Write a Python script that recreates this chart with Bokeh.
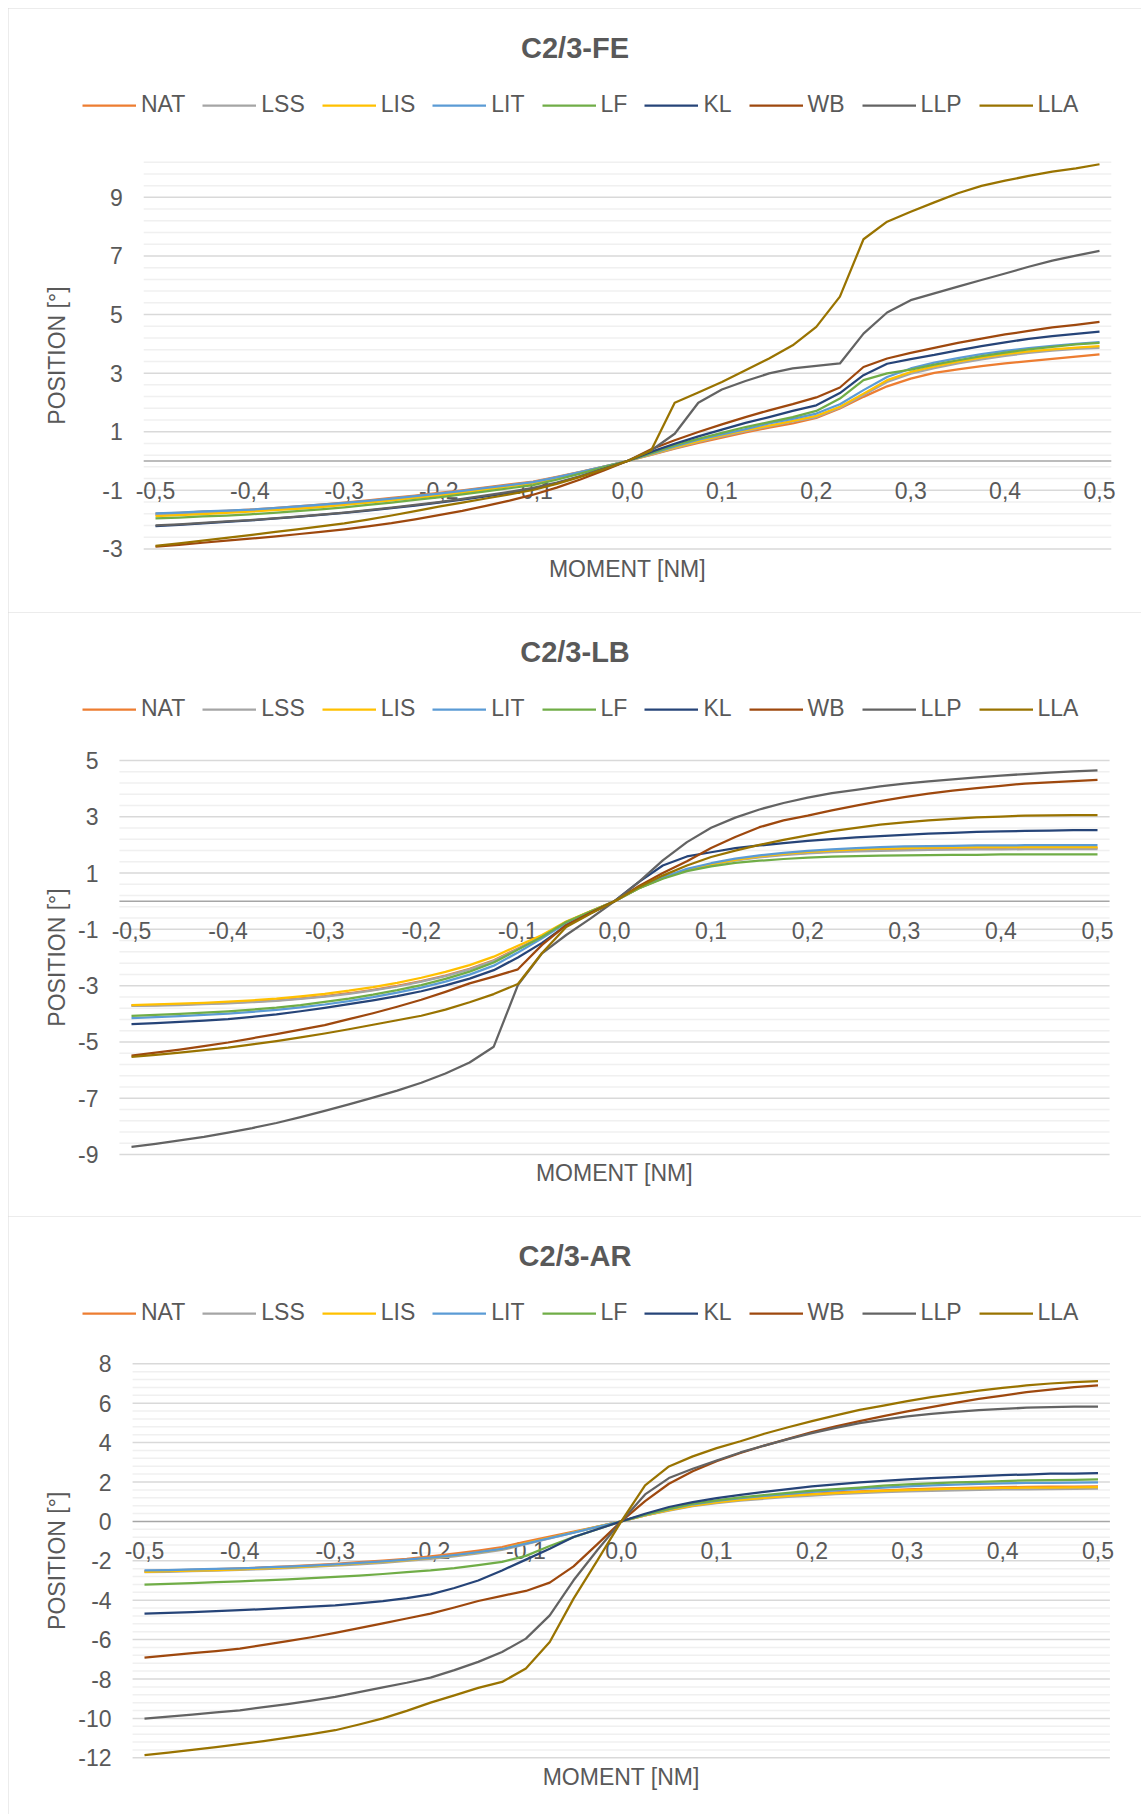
import math
from bokeh.plotting import figure
from bokeh.models import Legend, LegendItem, Range1d, Label
from bokeh.core.properties import value
from bokeh.layouts import column
from bokeh.embed import file_html
from bokeh.resources import INLINE

# ---------------- data ----------------
moment = [-0.5, -0.475, -0.45, -0.425, -0.4, -0.375, -0.35, -0.325, -0.3, -0.275,
          -0.25, -0.225, -0.2, -0.175, -0.15, -0.125, -0.1, -0.075, -0.05, -0.025,
          0.0, 0.025, 0.05, 0.075, 0.1, 0.125, 0.15, 0.175, 0.2, 0.225,
          0.25, 0.275, 0.3, 0.325, 0.35, 0.375, 0.4, 0.425, 0.45, 0.475, 0.5]

series_names = ["NAT", "LSS", "LIS", "LIT", "LF", "KL", "WB", "LLP", "LLA"]
series_colors = ["#ED7D31", "#A5A5A5", "#FFC000", "#5B9BD5", "#70AD47",
                 "#264478", "#9E480E", "#636363", "#997300"]

x_ticks = [-0.5, -0.4, -0.3, -0.2, -0.1, 0.0, 0.1, 0.2, 0.3, 0.4, 0.5]
x_tick_labels = ["-0,5", "-0,4", "-0,3", "-0,2", "-0,1", "0,0", "0,1", "0,2", "0,3", "0,4", "0,5"]

# C2/3-FE
NAT_FE = [-1.80,-1.77,-1.73,-1.70,-1.66,-1.61,-1.55,-1.49,-1.42,-1.34,-1.26,-1.18,-1.09,-1.00,-0.90,-0.80,-0.70,-0.54,-0.37,-0.19,0.00,
          0.21,0.42,0.62,0.80,0.98,1.14,1.28,1.47,1.79,2.19,2.55,2.81,3.01,3.13,3.24,3.33,3.41,3.49,3.56,3.64]
LSS_FE = [-1.84,-1.81,-1.77,-1.73,-1.69,-1.64,-1.58,-1.52,-1.45,-1.37,-1.29,-1.21,-1.12,-1.03,-0.93,-0.83,-0.72,-0.56,-0.38,-0.19,0.00,
          0.22,0.44,0.65,0.84,1.02,1.18,1.34,1.50,1.82,2.25,2.70,2.98,3.17,3.33,3.47,3.59,3.69,3.77,3.83,3.86]
LIS_FE = [-1.88,-1.85,-1.81,-1.77,-1.73,-1.68,-1.63,-1.57,-1.50,-1.42,-1.34,-1.26,-1.18,-1.08,-0.98,-0.87,-0.76,-0.59,-0.40,-0.20,0.00,
          0.23,0.46,0.68,0.87,1.05,1.21,1.37,1.54,1.85,2.30,2.76,3.04,3.23,3.39,3.53,3.65,3.74,3.81,3.87,3.92]
LIT_FE = [-1.79,-1.76,-1.72,-1.69,-1.66,-1.61,-1.55,-1.49,-1.43,-1.36,-1.28,-1.20,-1.11,-1.02,-0.92,-0.82,-0.72,-0.56,-0.38,-0.19,0.00,
          0.25,0.50,0.73,0.91,1.09,1.28,1.44,1.62,1.94,2.42,2.87,3.16,3.36,3.51,3.65,3.76,3.85,3.93,4.00,4.06]
LF_FE = [-1.96,-1.93,-1.89,-1.86,-1.82,-1.77,-1.71,-1.65,-1.58,-1.50,-1.42,-1.33,-1.24,-1.14,-1.04,-0.93,-0.82,-0.64,-0.43,-0.21,0.00,
         0.27,0.54,0.76,0.96,1.16,1.33,1.50,1.71,2.13,2.76,2.99,3.12,3.29,3.44,3.58,3.70,3.81,3.90,3.98,4.03]
KL_FE = [-2.22,-2.18,-2.13,-2.08,-2.03,-1.97,-1.91,-1.84,-1.77,-1.69,-1.61,-1.52,-1.42,-1.32,-1.21,-1.09,-0.96,-0.76,-0.52,-0.27,0.00,
         0.31,0.59,0.84,1.07,1.30,1.50,1.71,1.90,2.32,2.93,3.32,3.48,3.62,3.78,3.92,4.05,4.17,4.26,4.34,4.42]
WB_FE = [-2.92,-2.86,-2.79,-2.72,-2.65,-2.58,-2.50,-2.42,-2.33,-2.23,-2.12,-1.99,-1.85,-1.70,-1.53,-1.35,-1.15,-0.91,-0.63,-0.32,0.00,
         0.40,0.71,0.99,1.25,1.50,1.73,1.94,2.17,2.51,3.21,3.50,3.69,3.86,4.03,4.18,4.32,4.44,4.56,4.65,4.75]
LLP_FE = [-2.20,-2.16,-2.11,-2.06,-2.02,-1.96,-1.90,-1.83,-1.76,-1.68,-1.59,-1.50,-1.40,-1.29,-1.17,-1.05,-0.92,-0.74,-0.52,-0.27,0.00,
          0.36,0.93,1.99,2.44,2.73,2.99,3.16,3.25,3.33,4.35,5.07,5.49,5.72,5.95,6.18,6.40,6.63,6.84,7.01,7.17]
LLA_FE = [-2.90,-2.81,-2.72,-2.62,-2.53,-2.43,-2.33,-2.23,-2.13,-2.00,-1.86,-1.71,-1.56,-1.42,-1.28,-1.14,-0.99,-0.78,-0.54,-0.28,0.00,
          0.36,1.99,2.34,2.70,3.10,3.50,3.95,4.58,5.61,7.57,8.17,8.51,8.83,9.14,9.39,9.57,9.73,9.88,9.99,10.13]

# C2/3-LB
NAT_LB = [-3.70,-3.69,-3.67,-3.64,-3.61,-3.57,-3.52,-3.45,-3.37,-3.27,-3.15,-3.01,-2.84,-2.64,-2.40,-2.10,-1.68,-1.25,-0.74,-0.37,0.00,
          0.46,0.83,1.12,1.31,1.46,1.58,1.66,1.72,1.77,1.80,1.83,1.85,1.86,1.87,1.88,1.88,1.89,1.89,1.89,1.89]
LSS_LB = [-3.72,-3.71,-3.69,-3.66,-3.63,-3.59,-3.54,-3.47,-3.39,-3.29,-3.17,-3.03,-2.86,-2.66,-2.42,-2.12,-1.70,-1.26,-0.75,-0.37,0.00,
          0.46,0.82,1.11,1.30,1.45,1.56,1.64,1.70,1.74,1.77,1.79,1.81,1.82,1.83,1.84,1.84,1.85,1.85,1.85,1.85]
LIS_LB = [-3.69,-3.67,-3.64,-3.61,-3.57,-3.52,-3.46,-3.38,-3.29,-3.18,-3.05,-2.90,-2.72,-2.51,-2.27,-1.97,-1.58,-1.20,-0.72,-0.36,0.00,
          0.46,0.83,1.12,1.32,1.47,1.59,1.68,1.75,1.80,1.84,1.87,1.89,1.90,1.91,1.92,1.92,1.92,1.92,1.92,1.92]
LIT_LB = [-4.15,-4.12,-4.08,-4.04,-3.99,-3.93,-3.86,-3.77,-3.67,-3.55,-3.41,-3.25,-3.07,-2.86,-2.61,-2.29,-1.82,-1.32,-0.78,-0.39,0.00,
          0.47,0.85,1.15,1.35,1.51,1.63,1.72,1.79,1.84,1.89,1.92,1.95,1.96,1.97,1.98,1.98,1.99,1.99,1.99,1.99]
LF_LB = [-4.07,-4.04,-4.00,-3.96,-3.91,-3.85,-3.78,-3.69,-3.58,-3.46,-3.32,-3.16,-2.98,-2.76,-2.50,-2.18,-1.72,-1.26,-0.74,-0.37,0.00,
         0.45,0.80,1.07,1.24,1.36,1.44,1.50,1.55,1.58,1.60,1.62,1.63,1.64,1.65,1.65,1.66,1.66,1.66,1.66,1.66]
KL_LB = [-4.37,-4.33,-4.29,-4.24,-4.19,-4.11,-4.02,-3.91,-3.79,-3.66,-3.52,-3.37,-3.20,-2.99,-2.75,-2.45,-2.00,-1.48,-0.86,-0.43,0.00,
         0.68,1.27,1.59,1.74,1.89,1.98,2.06,2.14,2.21,2.27,2.31,2.36,2.40,2.43,2.46,2.48,2.50,2.51,2.53,2.53]
WB_LB = [-5.49,-5.38,-5.27,-5.15,-5.02,-4.87,-4.72,-4.56,-4.40,-4.19,-3.98,-3.75,-3.50,-3.22,-2.92,-2.68,-2.42,-1.55,-0.85,-0.42,0.00,
         0.53,1.00,1.42,1.89,2.28,2.63,2.87,3.04,3.23,3.40,3.56,3.70,3.82,3.93,4.02,4.10,4.18,4.22,4.27,4.31]
LLP_LB = [-8.73,-8.62,-8.50,-8.37,-8.22,-8.06,-7.88,-7.67,-7.45,-7.22,-6.98,-6.73,-6.45,-6.12,-5.73,-5.17,-2.98,-1.85,-1.20,-0.62,0.00,
          0.68,1.45,2.10,2.61,2.97,3.26,3.49,3.68,3.84,3.96,4.08,4.18,4.26,4.33,4.40,4.46,4.52,4.57,4.61,4.65]
LLA_LB = [-5.53,-5.46,-5.38,-5.29,-5.20,-5.09,-4.97,-4.84,-4.70,-4.55,-4.39,-4.23,-4.07,-3.85,-3.59,-3.30,-2.94,-1.84,-0.92,-0.45,0.00,
          0.50,0.91,1.27,1.57,1.80,2.00,2.18,2.34,2.49,2.61,2.72,2.80,2.87,2.93,2.98,3.01,3.04,3.05,3.06,3.06]

# C2/3-AR
NAT_AR = [-2.52,-2.49,-2.46,-2.42,-2.38,-2.34,-2.28,-2.22,-2.15,-2.07,-1.99,-1.90,-1.78,-1.64,-1.48,-1.30,-1.02,-0.77,-0.52,-0.26,0.00,
          0.31,0.58,0.81,0.98,1.11,1.22,1.32,1.40,1.47,1.53,1.58,1.62,1.66,1.69,1.72,1.74,1.75,1.76,1.77,1.78]
LSS_AR = [-2.58,-2.56,-2.53,-2.50,-2.46,-2.42,-2.37,-2.31,-2.25,-2.18,-2.10,-2.01,-1.90,-1.77,-1.62,-1.45,-1.15,-0.86,-0.57,-0.28,0.00,
          0.30,0.55,0.77,0.93,1.05,1.15,1.24,1.31,1.38,1.43,1.48,1.52,1.55,1.58,1.60,1.62,1.63,1.64,1.65,1.66]
LIS_AR = [-2.56,-2.53,-2.50,-2.47,-2.43,-2.39,-2.34,-2.28,-2.21,-2.13,-2.05,-1.96,-1.85,-1.72,-1.57,-1.40,-1.10,-0.83,-0.55,-0.27,0.00,
          0.31,0.57,0.80,0.96,1.09,1.20,1.29,1.37,1.44,1.50,1.55,1.59,1.63,1.66,1.68,1.70,1.71,1.72,1.73,1.74]
LIT_AR = [-2.49,-2.47,-2.44,-2.41,-2.38,-2.34,-2.29,-2.24,-2.18,-2.11,-2.03,-1.94,-1.84,-1.71,-1.56,-1.40,-1.13,-0.85,-0.57,-0.28,0.00,
          0.33,0.62,0.87,1.04,1.18,1.30,1.40,1.50,1.58,1.65,1.72,1.78,1.83,1.87,1.90,1.93,1.95,1.96,1.97,1.98]
LF_AR = [-3.21,-3.17,-3.13,-3.08,-3.04,-2.99,-2.94,-2.88,-2.82,-2.75,-2.67,-2.58,-2.49,-2.37,-2.22,-2.05,-1.75,-1.25,-0.80,-0.40,0.00,
         0.34,0.64,0.90,1.07,1.22,1.34,1.45,1.56,1.64,1.72,1.81,1.88,1.93,1.98,2.01,2.05,2.08,2.10,2.11,2.13]
KL_AR = [-4.68,-4.64,-4.60,-4.55,-4.51,-4.45,-4.39,-4.33,-4.26,-4.16,-4.05,-3.90,-3.70,-3.38,-3.00,-2.49,-1.94,-1.39,-0.79,-0.40,0.00,
         0.39,0.73,0.98,1.18,1.35,1.50,1.64,1.78,1.88,1.98,2.06,2.13,2.20,2.25,2.30,2.35,2.38,2.42,2.43,2.45]
WB_AR = [-6.91,-6.80,-6.69,-6.58,-6.46,-6.27,-6.08,-5.88,-5.66,-5.42,-5.18,-4.93,-4.68,-4.37,-4.04,-3.78,-3.53,-3.11,-2.28,-1.15,0.00,
         1.03,1.91,2.55,3.06,3.47,3.85,4.19,4.53,4.82,5.09,5.34,5.58,5.80,6.02,6.22,6.39,6.56,6.69,6.81,6.91]
LLP_AR = [-10.01,-9.91,-9.81,-9.70,-9.59,-9.43,-9.27,-9.10,-8.91,-8.67,-8.42,-8.19,-7.93,-7.55,-7.13,-6.63,-5.95,-4.77,-2.99,-1.45,0.00,
          1.37,2.20,2.67,3.09,3.50,3.85,4.18,4.48,4.75,4.99,5.17,5.33,5.46,5.56,5.65,5.71,5.77,5.80,5.82,5.83]
LLA_AR = [-11.87,-11.74,-11.60,-11.46,-11.31,-11.15,-10.98,-10.80,-10.60,-10.31,-10.00,-9.62,-9.20,-8.83,-8.45,-8.15,-7.47,-6.12,-3.92,-1.98,0.00,
          1.83,2.79,3.30,3.72,4.07,4.45,4.78,5.09,5.38,5.66,5.88,6.10,6.31,6.47,6.64,6.78,6.90,7.00,7.07,7.12]

FE = [NAT_FE, LSS_FE, LIS_FE, LIT_FE, LF_FE, KL_FE, WB_FE, LLP_FE, LLA_FE]
LB = [NAT_LB, LSS_LB, LIS_LB, LIT_LB, LF_LB, KL_LB, WB_LB, LLP_LB, LLA_LB]
AR = [NAT_AR, LSS_AR, LIS_AR, LIT_AR, LF_AR, KL_AR, WB_AR, LLP_AR, LLA_AR]

FE_y_ticks = [-3, -1, 1, 3, 5, 7, 9]
LB_y_ticks = [-9, -7, -5, -3, -1, 1, 3, 5]
AR_y_ticks = [-12, -10, -8, -6, -4, -2, 0, 2, 4, 6, 8]

# ---------------- style / layout (pixels inside each chart) ----------------
FONT = "Liberation Sans"
TXT = "#595959"
W = 1133
ROW_H = 28          # legend row height

# X0/X1: pixel of first/last category, TOP/BOT: pixel of y max / y min
panels = [
    dict(title="C2/3-FE", data=FE, ymin=-3.0, ymax=10.2, yticks=FE_y_ticks,
         H=604, X0=147.0, X1=1091.0, TOP=153.7, BOT=540.4),
    dict(title="C2/3-LB", data=LB, ymin=-9.0, ymax=5.0, yticks=LB_y_ticks,
         H=604, X0=123.0, X1=1089.0, TOP=148.0, BOT=542.0),
    dict(title="C2/3-AR", data=AR, ymin=-12.0, ymax=8.0, yticks=AR_y_ticks,
         H=598, X0=136.0, X1=1089.5, TOP=147.3, BOT=541.3),
]


def make_panel(cfg):
    H = cfg["H"]
    ymin, ymax = cfg["ymin"], cfg["ymax"]
    X0, X1, TOP, BOT = cfg["X0"], cfg["X1"], cfg["TOP"], cfg["BOT"]
    step = moment[1] - moment[0]
    ppx = (X1 - X0) / (moment[-1] - moment[0])
    ppy = (BOT - TOP) / (ymax - ymin)
    x_lo, x_hi = moment[0] - step / 2, moment[-1] + step / 2   # plot-area edges (data)

    p = figure(width=W, height=H, output_backend="svg", toolbar_location=None,
               x_range=Range1d(moment[0] - X0 / ppx, moment[-1] + (W - X1) / ppx),
               y_range=Range1d(ymin - (H - BOT) / ppy, ymax + TOP / ppy),
               x_axis_location=None, y_axis_location=None,
               min_border=0, background_fill_color="white", border_fill_color="white",
               outline_line_color=None)
    p.styles = {"outline": "1px solid #d9d9d9", "outline-offset": "-1px"}
    p.xgrid.visible = False
    p.ygrid.visible = False

    # gridlines: minor every 0.4, major at tick values, axis line at 0
    majors = cfg["yticks"]
    minors = []
    k = 0
    while ymin + 0.4 * k <= ymax + 1e-9:
        v = round(ymin + 0.4 * k, 4)
        if all(abs(v - m) > 1e-6 for m in majors) and abs(v) > 1e-6:
            minors.append(v)
        k += 1
    p.segment(x0=[x_lo] * len(minors), x1=[x_hi] * len(minors), y0=minors, y1=minors,
              line_color="#f0f0f0", line_width=1.5)
    maj = [m for m in majors if m != 0]
    p.segment(x0=[x_lo] * len(maj), x1=[x_hi] * len(maj), y0=maj, y1=maj,
              line_color="#d9d9d9", line_width=1.5)
    p.segment(x0=[x_lo], x1=[x_hi], y0=[0], y1=[0], line_color="#a6a6a6", line_width=1.5)

    # tick labels
    p.text(x=[x_lo] * len(majors), y=majors, text=[str(t) for t in majors],
           x_offset=-21, text_align="right", text_baseline="middle",
           text_font_size="23px", text_color=TXT, text_font=value(FONT))
    p.text(x=x_ticks, y=[0] * len(x_ticks), text=x_tick_labels, y_offset=29,
           text_align="center", text_baseline="middle", text_font_size="23px",
           text_color=TXT, text_font=value(FONT))

    # series
    items = []
    for name, color, vals in zip(series_names, series_colors, cfg["data"]):
        r = p.line(moment, vals, line_color=color, line_width=2.25, line_join="round")
        items.append(LegendItem(label=name, renderers=[r]))

    legend = Legend(items=items, orientation="horizontal",
                    location=(74, H - 96.5 - ROW_H / 2),
                    glyph_width=54, glyph_height=ROW_H, label_height=ROW_H,
                    label_standoff=5, spacing=17, padding=0, margin=0,
                    border_line_color=None, background_fill_alpha=0,
                    label_text_font_size="23px", label_text_color=TXT,
                    label_text_font=FONT)
    p.add_layout(legend, "center")

    # titles
    p.add_layout(Label(x=W / 2, y=H - 39.5, x_units="screen", y_units="screen",
                       text=cfg["title"], text_font_size="29px", text_font_style="bold",
                       text_color=TXT, text_font=FONT, text_align="center",
                       text_baseline="middle"))
    p.add_layout(Label(x=(X0 + X1) / 2, y=H - 560, x_units="screen", y_units="screen",
                       text="MOMENT [NM]", text_font_size="23px", text_color=TXT,
                       text_font=FONT, text_align="center", text_baseline="middle"))
    p.add_layout(Label(x=48.5, y=H - (TOP + BOT) / 2, x_units="screen", y_units="screen",
                       text="POSITION [°]", angle=math.pi / 2, angle_units="rad",
                       text_font_size="23px", text_color=TXT, text_font=FONT,
                       text_align="center", text_baseline="middle"))
    return p


figs = [make_panel(c) for c in panels]
layout = column(*figs, spacing=0, margin=(8, 0, 0, 8))

with open("out.html", "w") as f:
    f.write(file_html(layout, INLINE))
